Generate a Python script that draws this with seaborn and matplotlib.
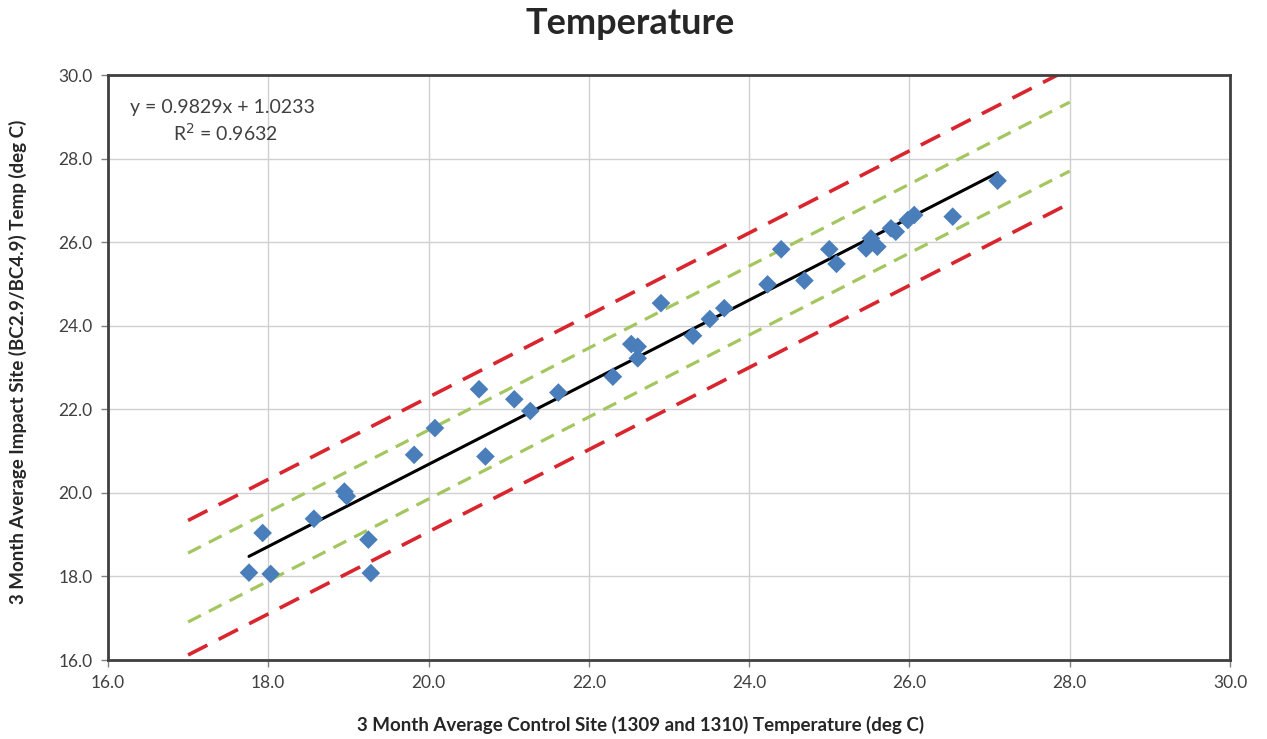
import matplotlib
matplotlib.use("Agg")
import matplotlib.pyplot as plt
import seaborn as sns
import pandas as pd

# Data
control_temp = [17.76, 17.93, 18.03, 18.57, 18.95, 18.98, 19.25, 19.28, 19.82, 20.08,
                20.63, 20.71, 21.07, 21.27, 21.62, 22.30, 22.53, 22.61, 22.61, 22.90,
                23.30, 23.51, 23.69, 24.23, 24.40, 24.69, 25.00, 25.09, 25.46, 25.52,
                25.60, 25.77, 25.83, 25.98, 26.06, 26.54, 27.10]
impact_temp = [18.09, 19.04, 18.06, 19.38, 20.03, 19.92, 18.88, 18.08, 20.91, 21.55,
               22.48, 20.87, 22.24, 21.96, 22.40, 22.78, 23.56, 23.50, 23.22, 24.54,
               23.76, 24.16, 24.42, 24.99, 25.83, 25.08, 25.83, 25.48, 25.85, 26.09,
               25.89, 26.33, 26.25, 26.53, 26.65, 26.61, 27.47]

# trend line (y = 0.9829x + 1.0233) end points
fit_x = [17.76, 27.10]
fit_y = [18.48, 27.66]

# bound lines
band_x = [17.0, 28.0]
red_upper = [19.34, 30.15]
red_lower = [16.12, 26.93]
green_upper = [18.56, 29.35]
green_lower = [16.91, 27.70]

equation = "y = 0.9829x + 1.0233"
r_squared = "R$^2$ = 0.9632"

sns.set_style("white")
plt.rcParams["font.family"] = ["Lato", "DejaVu Sans"]

fig = plt.figure(figsize=(12.67, 7.39), dpi=100)
ax = fig.add_axes([0.0852, 0.1069, 0.8856, 0.7916])

pts = pd.DataFrame({"control": control_temp, "impact": impact_temp})

ax.grid(True, color="#d0d0d0", linewidth=1.0, zorder=0)

for ys in (red_upper, red_lower):
    sns.lineplot(x=band_x, y=ys, ax=ax, color="#d9262e", linewidth=2.6,
                 zorder=2).lines[-1].set_dashes([6, 3.5])
for ys in (green_upper, green_lower):
    sns.lineplot(x=band_x, y=ys, ax=ax, color="#a3c65e", linewidth=2.3,
                 zorder=2).lines[-1].set_dashes([4.5, 2.8])

sns.lineplot(x=fit_x, y=fit_y, ax=ax, color="black", linewidth=2.2, zorder=3)

sns.scatterplot(data=pts, x="control", y="impact", ax=ax, marker="D", s=90,
                color="#4a7ebb", edgecolor="none", zorder=4)

ax.set_xlim(16, 30)
ax.set_ylim(16, 30)
ax.set_xticks(range(16, 31, 2))
ax.set_yticks(range(16, 31, 2))
ax.set_xticklabels([f"{v:.1f}" for v in range(16, 31, 2)], fontsize=12.5, color="#404040")
ax.set_yticklabels([f"{v:.1f}" for v in range(16, 31, 2)], fontsize=12.5, color="#404040")
ax.tick_params(axis="both", direction="out", length=5, width=1, color="#808080",
               bottom=True, left=True, pad=6)

for s in ax.spines.values():
    s.set_color("#404040")
    s.set_linewidth(2)

ax.set_xlabel("3 Month Average Control Site (1309 and 1310) Temperature (deg C)",
              fontsize=13.5, fontweight="bold")
ax.set_ylabel("3 Month Average Impact Site (BC2.9/BC4.9) Temp (deg C)",
              fontsize=13.5, fontweight="bold")
ax.xaxis.set_label_coords(0.475, -0.095)
ax.yaxis.set_label_coords(-0.072, 0.51)

fig.suptitle("Temperature", fontsize=26, fontweight="bold", x=0.497, y=0.99, va="top")

ax.text(0.02, 0.945, equation, transform=ax.transAxes, fontsize=14, color="#404040",
        ha="left", va="center")
ax.text(0.058, 0.901, r_squared, transform=ax.transAxes, fontsize=14, color="#404040",
        ha="left", va="center")

fig.savefig("out.png", dpi=100)
